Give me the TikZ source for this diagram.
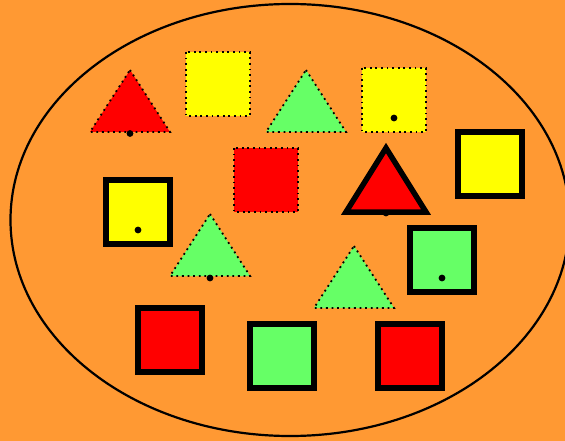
\documentclass[tikz,border=0pt]{standalone}
\usepackage{tikz}
\usetikzlibrary{positioning, calc}
\definecolor{setOrange}{HTML}{FF9933}
\definecolor{setYellow}{HTML}{FFFF00}
\definecolor{setRed}{HTML}{FF0000}
\definecolor{setGreen}{HTML}{66FF66}
\tikzset{
    setBorder/.style={
        draw=black,
        line width=2.2pt
    },
    % Shape borders
    dotShape/.style={draw=black, line width=1.8pt, dash pattern=on 1.8pt off 3.8pt},
    boldShape/.style={draw=black, line width=5.5pt, miter limit=10},
    setDot/.style={fill=black},
    % Fills
    yel/.style={fill=setYellow},
    red/.style={fill=setRed},
    grn/.style={fill=setGreen}
}

\begin{document}
\begin{tikzpicture}[x=1pt, y=-1pt]
\fill[setOrange] (0,0) rectangle (565,441);
\useasboundingbox (0,0) rectangle (565,441);
\draw[setBorder] (290,220) ellipse [x radius=279.5, y radius=216];

% top row
\draw[dotShape, red] (130,70) coordinate (triA) -- (170,132) -- (90,132) -- cycle;
\fill[setDot] (130,133.5) circle (3.4pt);
\draw[dotShape, yel] (186,52) rectangle (250,116);
\draw[dotShape, grn] (306,70) coordinate (triB) -- (346,132) -- (266,132) -- cycle;
\draw[dotShape, yel] (362,68) rectangle (426,132);
\fill[setDot] (394,118) circle (3.4pt);
\draw[boldShape, yel] (458,132) rectangle (522,196);

% middle
\draw[dotShape, red] (234,148) rectangle (298,212);
\fill[setDot] (386,213) circle (3.4pt);
\draw[boldShape, red] (386,148) coordinate (triC) -- (426,212) -- (346,212) -- cycle;
\draw[boldShape, yel] (106,180) rectangle (170,244);
\fill[setDot] (138,230) circle (3.4pt);
\draw[dotShape, grn] (210,214) coordinate (triD) -- (250,276) -- (170,276) -- cycle;
\fill[setDot] (210,278) circle (3.4pt);
\draw[boldShape, grn] (410,228) rectangle (474,292);
\fill[setDot] (442,278) circle (3.4pt);
\draw[dotShape, grn] (354,246) coordinate (triE) -- (394,308) -- (314,308) -- cycle;

% bottom row
\draw[boldShape, red] (138,308) rectangle (202,372);
\draw[boldShape, grn] (250,324) rectangle (314,388);
\draw[boldShape, red] (378,324) rectangle (442,388);
\end{tikzpicture}
\end{document}
